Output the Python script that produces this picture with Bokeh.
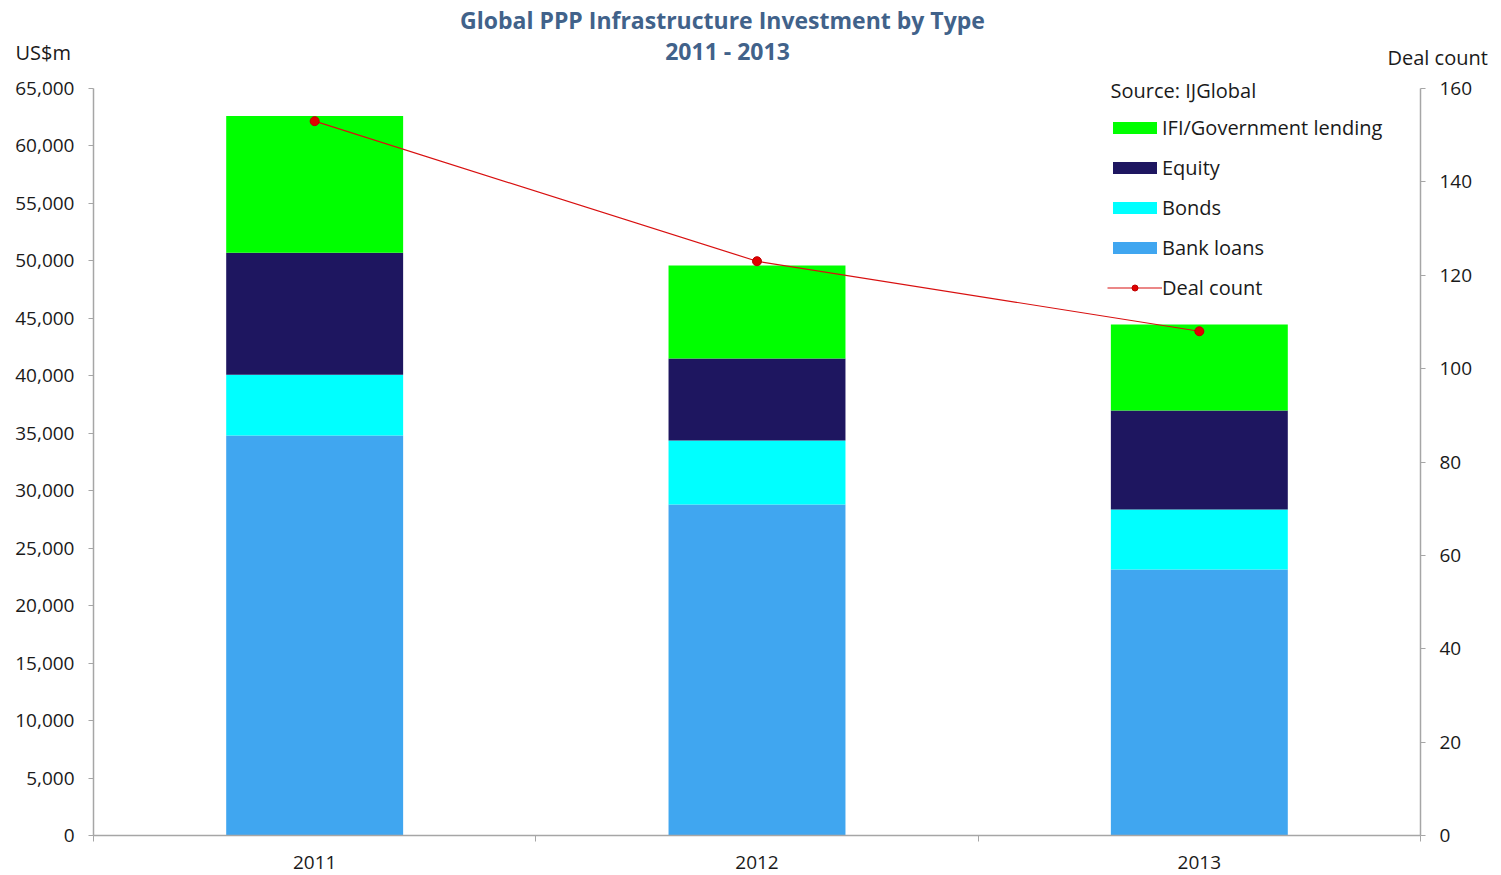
from bokeh.plotting import figure
from bokeh.layouts import column
from bokeh.models import (ColumnDataSource, Range1d, LinearAxis, FixedTicker,
                          NumeralTickFormatter, Legend, LegendItem, Label)
from bokeh.embed import file_html
from bokeh.resources import INLINE

# Investment by type, US$m
years = ["2011", "2012", "2013"]
bank_loans = [34800, 28800, 23150]
bonds = [5300, 5570, 5220]
equity = [10600, 7130, 8610]
ifi_gov = [11900, 8100, 7480]
# Number of deals closed
deal_count = [153, 123, 108]

series = ["bank_loans", "bonds", "equity", "ifi_gov"]
series_labels = ["Bank loans", "Bonds", "Equity", "IFI/Government lending"]
colors = ["#40A6F0", "#00FFFF", "#1E1660", "#00FF00"]

Y_MAX, DEAL_MAX = 65000, 160

FONT = "Open Sans"
TEXT = "#1a1a1a"
TITLE = "#41628A"
AXIS = "#a6a6a6"

W = 1501
HEAD_H = 70          # header strip with title and axis units
MAIN_H = 875 - HEAD_H
TOP_PAD = 18         # frame space above the highest tick
PLOT_H = 747         # pixel height of the 0..Y_MAX span

# ---- header: title and axis units ----
head = figure(width=W, height=HEAD_H, output_backend="svg", toolbar_location=None,
              x_range=Range1d(0, W), y_range=Range1d(HEAD_H, 0),
              x_axis_type=None, y_axis_type=None, min_border=0)
head.frame_align = False
head.outline_line_color = None
head.xgrid.visible = False
head.ygrid.visible = False


def head_text(text, x, y, size, align="left", bold=False, color=TEXT):
    head.add_layout(Label(x=x, y=y, text=text, text_font=FONT,
                          text_font_size=size,
                          text_font_style="bold" if bold else "normal",
                          text_color=color, text_align=align,
                          text_baseline="middle"))


head_text("Global PPP Infrastructure Investment by Type", 722, 19, "23px",
          align="center", bold=True, color=TITLE)
head_text("2011 - 2013", 727, 50, "23px", align="center", bold=True, color=TITLE)
head_text("US$m", 15, 52, "20px")
head_text("Deal count", 1387, 57, "20px")

# ---- main chart ----
xs = [i + 0.5 for i in range(len(years))]
source = ColumnDataSource(dict(x=xs, bank_loans=bank_loans, bonds=bonds,
                               equity=equity, ifi_gov=ifi_gov,
                               deals=deal_count))

ext = 1 + TOP_PAD / PLOT_H
p = figure(width=W, height=MAIN_H, output_backend="svg", toolbar_location=None,
           x_range=Range1d(0, len(years)), y_range=Range1d(0, Y_MAX * ext),
           min_border_left=93, min_border_right=81, min_border_top=0,
           min_border_bottom=40)
p.frame_align = False
p.outline_line_color = None
p.xgrid.visible = False
p.ygrid.visible = False
p.background_fill_color = "white"
p.border_fill_color = "white"

bars = p.vbar_stack(series, x="x", width=0.4, source=source, color=colors,
                    line_color=None)

p.extra_y_ranges = {"deals": Range1d(0, DEAL_MAX * ext)}
line = p.line("x", "deals", source=source, y_range_name="deals",
              line_color="#D81010", line_width=1.2)
dots = p.scatter("x", "deals", source=source, y_range_name="deals",
                 size=9, fill_color="#E00000", line_color="#C00000")

# x axis: year labels at bar centres, tick marks at category boundaries
xa = p.xaxis[0]
xa.ticker = FixedTicker(ticks=xs, minor_ticks=list(range(len(years) + 1)))
xa.major_label_overrides = {x: y for x, y in zip(xs, years)}
xa.major_tick_out = 0
xa.major_tick_in = 0
xa.minor_tick_out = 6
xa.minor_tick_in = 0
xa.minor_tick_line_color = AXIS
xa.major_label_standoff = 14

ya = p.yaxis[0]
ya.ticker = FixedTicker(ticks=list(range(0, Y_MAX + 1, 5000)))
ya.formatter = NumeralTickFormatter(format="0,0")
ya.bounds = (0, Y_MAX)
ya.major_tick_out = 5
ya.major_tick_in = 0
ya.minor_tick_out = 0
ya.minor_tick_in = 0
ya.major_label_standoff = 14

ra = LinearAxis(y_range_name="deals",
                ticker=FixedTicker(ticks=list(range(0, DEAL_MAX + 1, 20))),
                bounds=(0, DEAL_MAX))
ra.major_tick_out = 5
ra.major_tick_in = 0
ra.minor_tick_out = 0
ra.minor_tick_in = 0
ra.major_label_standoff = 14
p.add_layout(ra, "right")

for ax in (xa, ya, ra):
    ax.axis_line_color = AXIS
    ax.axis_line_width = 1.5
    ax.major_tick_line_color = AXIS
    ax.major_tick_line_width = 1.2
    ax.major_label_text_font = FONT
    ax.major_label_text_font_size = "19px"
    ax.major_label_text_color = TEXT

items = [LegendItem(label=lab, renderers=[r])
         for lab, r in zip(series_labels[::-1], bars[::-1])]
items.append(LegendItem(label="Deal count", renderers=[line, dots]))
legend = Legend(items=items, location=(1014, 534), orientation="vertical",
                glyph_width=55, glyph_height=15, label_height=20,
                spacing=13, padding=0, margin=0, label_standoff=0,
                border_line_color=None, background_fill_alpha=0,
                label_text_font=FONT, label_text_font_size="20px",
                label_text_color=TEXT)
p.add_layout(legend, "center")

p.add_layout(Label(x=1017, y=745, x_units="screen", y_units="screen",
                   text="Source: IJGlobal", text_font=FONT,
                   text_font_size="20px", text_color=TEXT,
                   text_baseline="middle"))

open("out.html", "w").write(file_html(column(head, p, spacing=0), INLINE))
